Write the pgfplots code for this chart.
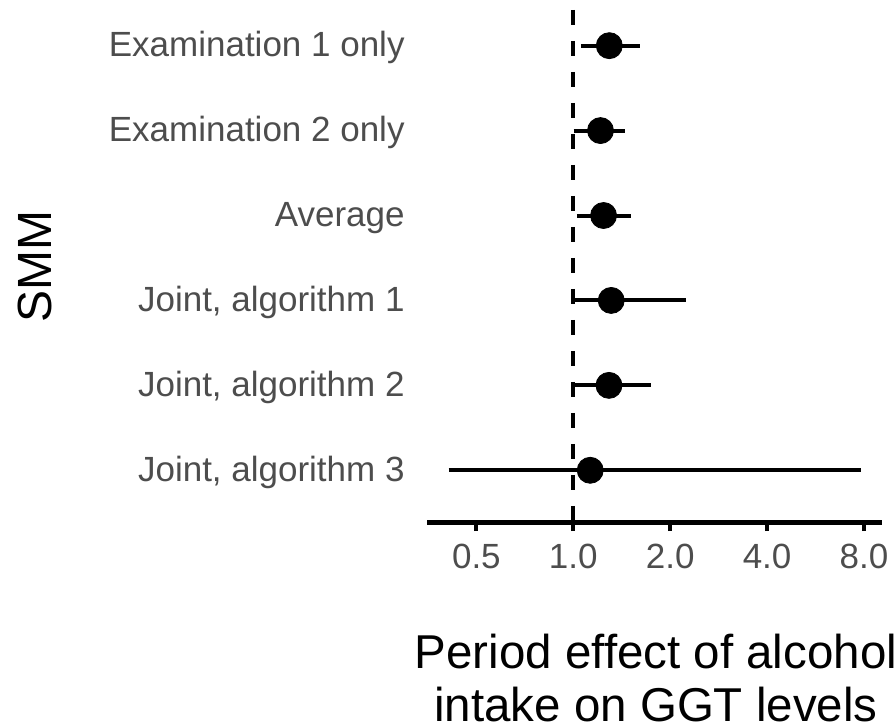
\documentclass[border=0pt]{standalone}
\usepackage{fontspec}
\setmainfont{Liberation Sans}
\usepackage{pgfplots}
\pgfplotsset{compat=1.18}
\definecolor{grey30}{HTML}{4D4D4D}
\begin{document}
\begin{tikzpicture}
\clip (-213.65pt,-102.65pt) rectangle (234.35pt,261.35pt);
\begin{axis}[
  at={(0,0)}, anchor=south west, scale only axis,
  width=227.35pt, height=256.35pt,
  xmode=log, log basis x=2,
  xmin=0.352, xmax=9.1, ymin=0.383, ymax=6.42,
  axis x line*=bottom, axis y line*=left,
  x axis line style={-, line width=2.4pt, line cap=butt},
  y axis line style={draw=none},
  xtick={0.5,1,2,4,8}, xticklabels={0.5,1.0,2.0,4.0,8.0},
  xminorticks=false,
  ytick={1,2,3,4,5,6},
  yticklabels={{Joint, algorithm 3},{Joint, algorithm 2},{Joint, algorithm 1},{Average},{Examination 2 only},{Examination 1 only}},
  xtick align=outside, major tick length=4.2pt,
  xtick style={line width=2pt, black},
  ytick style={draw=none},
  ticklabel style={font=\fontsize{17.5}{21}\selectfont, text=grey30, inner sep=0pt},
  xticklabel style={anchor=base, yshift=-18.6pt},
  yticklabel style={anchor=base east, xshift=-11.15pt, yshift=-5.5pt},
  xlabel={Period effect of alcohol\\intake on GGT levels},
  xlabel style={at={(axis description cs:0.5,0)}, anchor=north, xshift=0.65pt, yshift=-55.4pt, inner sep=0pt, font=\fontsize{23.75}{26.65}\selectfont, align=center},
  ylabel={SMM},
  ylabel style={at={(axis description cs:-0.8634,0.5)}, anchor=center, rotate=0, font=\fontsize{24}{26.5}\selectfont},
  clip=false,
]
\addplot[black, line width=2pt, dash pattern=on 7.7pt off 7.8pt] coordinates {(1,6.42) (1,0.383)};
\addplot[black, line width=2pt] coordinates {(1.056,6) (1.614,6)};
\addplot[black, line width=2pt] coordinates {(1.002,5) (1.443,5)};
\addplot[black, line width=2pt] coordinates {(1.027,4) (1.506,4)};
\addplot[black, line width=2pt] coordinates {(0.984,3) (2.238,3)};
\addplot[black, line width=2pt] coordinates {(1.007,2) (1.742,2)};
\addplot[black, line width=2pt] coordinates {(0.410,1) (7.81,1)};
\addplot[only marks, mark=*, mark size=6.5pt, mark options={fill=black, draw=none}] coordinates {
(1.294,6) (1.215,5) (1.242,4) (1.312,3) (1.291,2) (1.129,1)};
\end{axis}
\end{tikzpicture}
\end{document}
